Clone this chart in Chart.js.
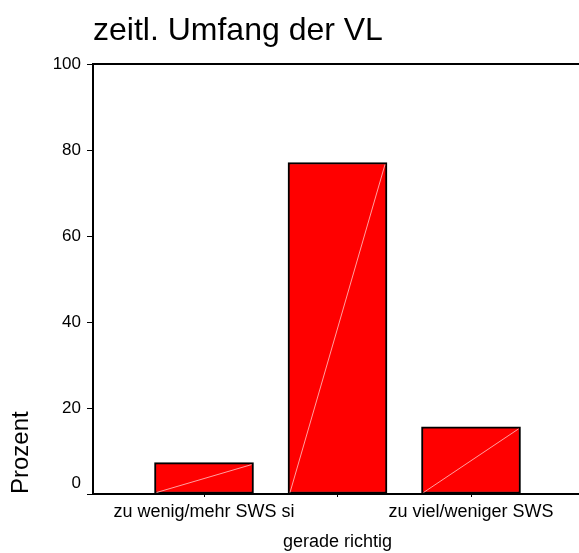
<!DOCTYPE html>
<html>
<head>
<meta charset="utf-8">
<script src="https://cdn.jsdelivr.net/npm/chart.js@4/dist/chart.umd.min.js"></script>
<style>
  html, body { margin: 0; padding: 0; background: #fff; }
  #wrap { width: 579px; height: 553px; position: relative; }
</style>
</head>
<body>
<div id="wrap"><canvas id="c"></canvas></div>
<script>
const chartTitle = 'zeitl. Umfang der VL';
const yAxisTitle = 'Prozent';
const categories = ['zu wenig/mehr SWS si', 'gerade richtig', 'zu viel/weniger SWS'];
const percentValues = [7.3, 77.1, 15.6];
const yTicks = [0, 20, 40, 60, 80, 100];

const FONT = '"Liberation Sans", Arial, Helvetica, sans-serif';

const points = percentValues.map((v, i) => ({ x: i + 1, y: v }));

const decorPlugin = {
  id: 'decor',
  afterDatasetsDraw(chart) {
    const ctx = chart.ctx;
    const meta = chart.getDatasetMeta(0);
    ctx.save();
    ctx.strokeStyle = '#ffa0a0';
    ctx.lineWidth = 1;
    meta.data.forEach(bar => {
      const p = bar.getProps(['x', 'y', 'base', 'width'], true);
      ctx.beginPath();
      ctx.moveTo(p.x - p.width / 2 + 2, p.base - 1);
      ctx.lineTo(p.x + p.width / 2 - 2, p.y + 2);
      ctx.stroke();
    });
    ctx.restore();
  },
  afterDraw(chart) {
    const a = chart.chartArea;
    const ctx = chart.ctx;
    ctx.save();
    ctx.strokeStyle = '#000';
    ctx.lineWidth = 2;
    ctx.beginPath();
    ctx.moveTo(a.left, a.top);
    ctx.lineTo(a.right, a.top);
    ctx.stroke();
    ctx.restore();
  }
};

new Chart(document.getElementById('c'), {
  type: 'bar',
  data: {
    datasets: [{
      data: points,
      backgroundColor: '#ff0000',
      borderColor: '#000000',
      borderWidth: 2,
      borderSkipped: false,
      barThickness: 99
    }]
  },
  plugins: [decorPlugin],
  options: {
    responsive: true,
    maintainAspectRatio: false,
    animation: false,
    layout: { padding: { left: 0, right: 0, top: 0, bottom: 0 } },
    plugins: {
      legend: { display: false },
      tooltip: { enabled: false },
      title: {
        display: true,
        text: chartTitle,
        align: 'start',
        fullSize: false,
        color: '#000',
        font: { family: FONT, size: 32, weight: 'normal', lineHeight: 1.2 },
        padding: { top: 12, bottom: 13.6 }
      }
    },
    scales: {
      x: {
        type: 'linear',
        min: 0.1685,
        max: 3.809,
        offset: false,
        afterFit(scale) { scale.height = 59; },
        afterBuildTicks(scale) {
          scale.ticks = categories.map((c, i) => ({ value: i + 1 }));
        },
        ticks: {
          autoSkip: false,
          maxRotation: 0,
          padding: 0,
          color: '#000',
          font: { family: FONT, size: 18, lineHeight: 1.65 },
          callback(value, index) {
            const lab = categories[index];
            return index % 2 === 1 ? ['', lab] : [lab];
          }
        },
        grid: {
          display: true,
          drawOnChartArea: false,
          drawTicks: true,
          tickLength: 3,
          color: '#000',
          lineWidth: 1,
          offset: false
        },
        border: { display: true, color: '#000', width: 2 }
      },
      y: {
        min: 0,
        max: 100,
        afterFit(scale) { scale.width = 93; },
        afterBuildTicks(scale) {
          scale.ticks = yTicks.map(v => ({ value: v }));
        },
        ticks: {
          padding: 6,
          color: '#000',
          font: { family: FONT, size: 17, lineHeight: 1.2 },
          callback(value) { return value === 0 ? ['0', ''] : String(value); }
        },
        grid: {
          display: true,
          drawOnChartArea: false,
          drawTicks: true,
          tickLength: 6,
          color: '#000',
          lineWidth: 1
        },
        border: { display: true, color: '#000', width: 2 },
        title: {
          display: true,
          text: yAxisTitle,
          align: 'start',
          color: '#000',
          font: { family: FONT, size: 24, lineHeight: 1.2 },
          padding: { top: 7, bottom: 0 }
        }
      }
    }
  }
});
</script>
</body>
</html>
